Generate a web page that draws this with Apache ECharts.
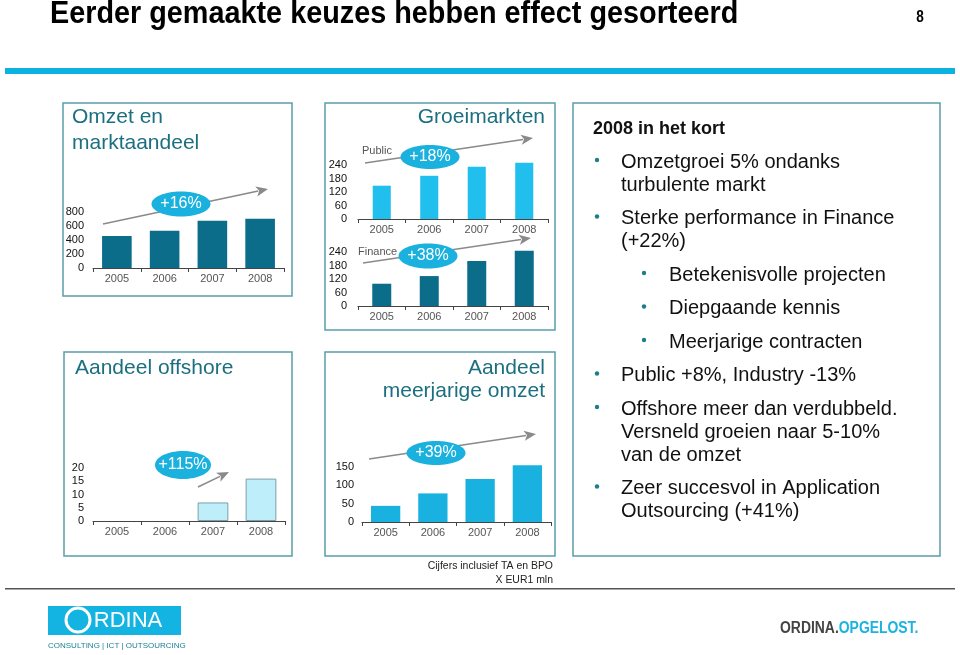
<!DOCTYPE html>
<html><head><meta charset="utf-8">
<script src="https://cdn.jsdelivr.net/npm/echarts@6/dist/echarts.min.js"></script>
<style>html,body{margin:0;padding:0;background:#fff}#c{width:960px;height:655px}</style>
</head><body><div id="c"></div>
<script>
// ---- data ----
const years = ['2005', '2006', '2007', '2008'];
const omzet = [457, 533, 676, 705];
const publicVals = [148, 192, 232, 250];
const financeVals = [99, 133, 200, 246];
const offshore = [null, null, 7, 16];
const meerjarige = [44, 78, 117, 155];
const growthLabels = ['+16%', '+18%', '+38%', '+115%', '+39%'];
const panelTitles = ['Omzet en\nmarktaandeel', 'Groeimarkten', 'Aandeel offshore', 'Aandeel\nmeerjarige omzet'];
const bullets = [
  [0, 'Omzetgroei 5% ondanks', 'turbulente markt'],
  [0, 'Sterke performance in Finance', '(+22%)'],
  [1, 'Betekenisvolle projecten'],
  [1, 'Diepgaande kennis'],
  [1, 'Meerjarige contracten'],
  [0, 'Public +8%, Industry -13%'],
  [0, 'Offshore meer dan verdubbeld.', 'Versneld groeien naar 5-10%', 'van de omzet'],
  [0, 'Zeer succesvol in Application', 'Outsourcing (+41%)']
];

const DARK = '#0b6d8a', CYAN = '#20bfee', MID = '#19b2e0', LIGHT = '#bfeefb';
const TEAL = '#1b6f80', BORDER = '#5a9fa9';
const FONT = 'Arial, "Liberation Sans", sans-serif';
const NARROW = '"Liberation Sans Narrow", "Arial Narrow", Arial, sans-serif';

const chart = echarts.init(document.getElementById('c'));

const grids = [
  {left: 93, top: 212, width: 191, height: 56},
  {left: 358, top: 165, width: 190, height: 54},
  {left: 358, top: 252, width: 190, height: 54},
  {left: 93, top: 468, width: 192, height: 53},
  {left: 362, top: 467, width: 189, height: 55}
];
const yCfg = [
  {max: 800, interval: 200, margin: 9},
  {max: 240, interval: 60, margin: 11},
  {max: 240, interval: 60, margin: 11},
  {max: 20, interval: 5, margin: 9},
  {max: 150, interval: 50, margin: 8}
];
const seriesData = [omzet, publicVals, financeVals, offshore, meerjarige];
const barColors = [DARK, CYAN, DARK, LIGHT, MID];
const barWidths = ['62%', '38%', '40%', '64%', '62%'];

const xAxes = grids.map((g, i) => ({
  type: 'category', gridIndex: i, data: years,
  axisLine: {lineStyle: {color: '#444', width: 1}},
  axisTick: {show: true, length: 4, lineStyle: {color: '#444'}},
  axisLabel: {color: '#555', fontSize: 11, margin: 5, fontFamily: FONT}
}));
const yAxes = grids.map((g, i) => ({
  type: 'value', gridIndex: i, min: 0, max: yCfg[i].max, interval: yCfg[i].interval,
  axisLine: {show: false}, axisTick: {show: false}, splitLine: {show: false},
  axisLabel: {color: '#111', fontSize: 11, margin: yCfg[i].margin, fontFamily: FONT}
}));
const series = seriesData.map((d, i) => ({
  type: 'bar', xAxisIndex: i, yAxisIndex: i, data: d, barWidth: barWidths[i], clip: false,
  itemStyle: {color: barColors[i], borderColor: i === 3 ? '#7d9ea8' : barColors[i], borderWidth: i === 3 ? 1 : 0},
  silent: true
}));

// ---- decorations ----
const g = [];
function rectBox(x, y, w, h) {
  g.push({type: 'rect', shape: {x, y, width: w, height: h}, style: {fill: 'none', stroke: BORDER, lineWidth: 1.5}, z: 1});
}
function text(x, y, t, font, fill, align, extra) {
  g.push(Object.assign({type: 'text', x, y, style: {text: t, font, fill, align: align || 'left', verticalAlign: 'middle'}, z: 10}, extra || {}));
}
function arrow(x1, y1, x2, y2) {
  const dx = x2 - x1, dy = y2 - y1, L = Math.hypot(dx, dy), ux = dx / L, uy = dy / L;
  const hl = 12, hw = 5;
  const bx = x2 - ux * hl, by = y2 - uy * hl;
  g.push({type: 'line', shape: {x1, y1, x2: bx + ux * 2, y2: by + uy * 2}, style: {stroke: '#8a8a8a', lineWidth: 1.6}, z: 5});
  g.push({type: 'polygon', shape: {points: [[x2, y2], [bx - uy * hw, by + ux * hw], [bx + ux * 3, by + uy * 3], [bx + uy * hw, by - ux * hw]]}, style: {fill: '#8a8a8a'}, z: 5});
}
function bubble(cx, cy, rx, ry, label) {
  g.push({type: 'ellipse', shape: {cx, cy, rx, ry}, style: {fill: '#1ab1df'}, z: 6,
    textContent: {style: {text: label, fill: '#fff', font: '16px ' + FONT}, z: 7}, textConfig: {position: 'inside'}});
}

// header
text(50, 14, 'Eerder gemaakte keuzes hebben effect gesorteerd', 'bold 32px ' + NARROW, '#000', 'left', {scaleX: 0.9});
text(920, 18, '8', 'bold 16px ' + NARROW, '#000', 'center', {scaleX: 0.85});
g.push({type: 'rect', shape: {x: 5, y: 68, width: 950, height: 6}, style: {fill: '#0cb3e0'}});

// panels
rectBox(63, 103, 229, 193);
rectBox(325, 103, 230, 227);
rectBox(64, 352, 228, 204);
rectBox(325, 352, 230, 204);
rectBox(573, 103, 367, 453);

// panel titles
const t0 = panelTitles[0].split('\n');
text(72, 117, t0[0], '21px ' + FONT, TEAL);
text(72, 143, t0[1], '21px ' + FONT, TEAL);
text(545, 117, panelTitles[1], '21px ' + FONT, TEAL, 'right');
text(75, 368, panelTitles[2], '21px ' + FONT, TEAL);
const t3 = panelTitles[3].split('\n');
text(545, 368, t3[0], '21px ' + FONT, TEAL, 'right');
text(545, 391, t3[1], '21px ' + FONT, TEAL, 'right');

// sub labels
text(362, 151, 'Public', '11px ' + FONT, '#555');
text(358, 252, 'Finance', '11px ' + FONT, '#555');

// arrows + bubbles
arrow(103, 224, 268, 189);
bubble(181, 204, 29.5, 12.5, growthLabels[0]);
arrow(365, 163, 533, 138);
bubble(430, 157, 29.5, 12, growthLabels[1]);
arrow(363, 263, 531, 238);
bubble(428, 256, 29.5, 12.5, growthLabels[2]);
arrow(198, 487, 229, 472);
bubble(183, 465, 28, 14, growthLabels[3]);
arrow(369, 459, 536, 434);
bubble(436, 453, 29.5, 12, growthLabels[4]);

// right panel text
text(593, 129, '2008 in het kort', 'bold 18px ' + FONT, '#111');
let y = 162;
bullets.forEach((b, bi) => {
  const lvl = b[0];
  const bx = lvl ? 644 : 597, tx = lvl ? 669 : 621;
  g.push({type: 'circle', shape: {cx: bx, cy: y - 2, r: 2.2}, style: {fill: '#1f7c8c'}, z: 10});
  for (let k = 1; k < b.length; k++) {
    text(tx, y, b[k], '20px ' + FONT, '#111');
    if (k < b.length - 1) y += 23;
  }
  y += 33.5;
});

// footer
text(553, 566, 'Cijfers inclusief TA en BPO', '11px ' + NARROW, '#222', 'right', {scaleX: 0.95});
text(553, 580, 'X EUR1 mln', '11px ' + NARROW, '#222', 'right', {scaleX: 0.95});
g.push({type: 'rect', shape: {x: 5, y: 588, width: 950, height: 1.5}, style: {fill: '#555'}});
g.push({type: 'rect', shape: {x: 48, y: 606, width: 133, height: 29}, style: {fill: '#14b4e2'}});
g.push({type: 'circle', shape: {cx: 78, cy: 620, r: 12}, style: {fill: 'none', stroke: '#fff', lineWidth: 3}, z: 3});
text(128, 621, 'RDINA', '22px ' + NARROW, '#fff', 'center');
text(48, 646, 'CONSULTING | ICT | OUTSOURCING', '8px ' + NARROW, '#1a7f95');
g.push({type: 'text', x: 780, y: 629, z: 10, scaleX: 0.87, style: {text: '{a|ORDINA.}{b|OPGELOST.}', verticalAlign: 'middle',
  rich: {a: {font: 'bold 16px ' + NARROW, fill: '#444'}, b: {font: 'bold 16px ' + NARROW, fill: '#1ab3e0'}}}});

chart.setOption({
  animation: false,
  backgroundColor: '#fff',
  grid: grids.map(x => Object.assign({containLabel: false}, x)),
  xAxis: xAxes,
  yAxis: yAxes,
  series: series,
  graphic: {elements: g}
});
</script></body></html>
